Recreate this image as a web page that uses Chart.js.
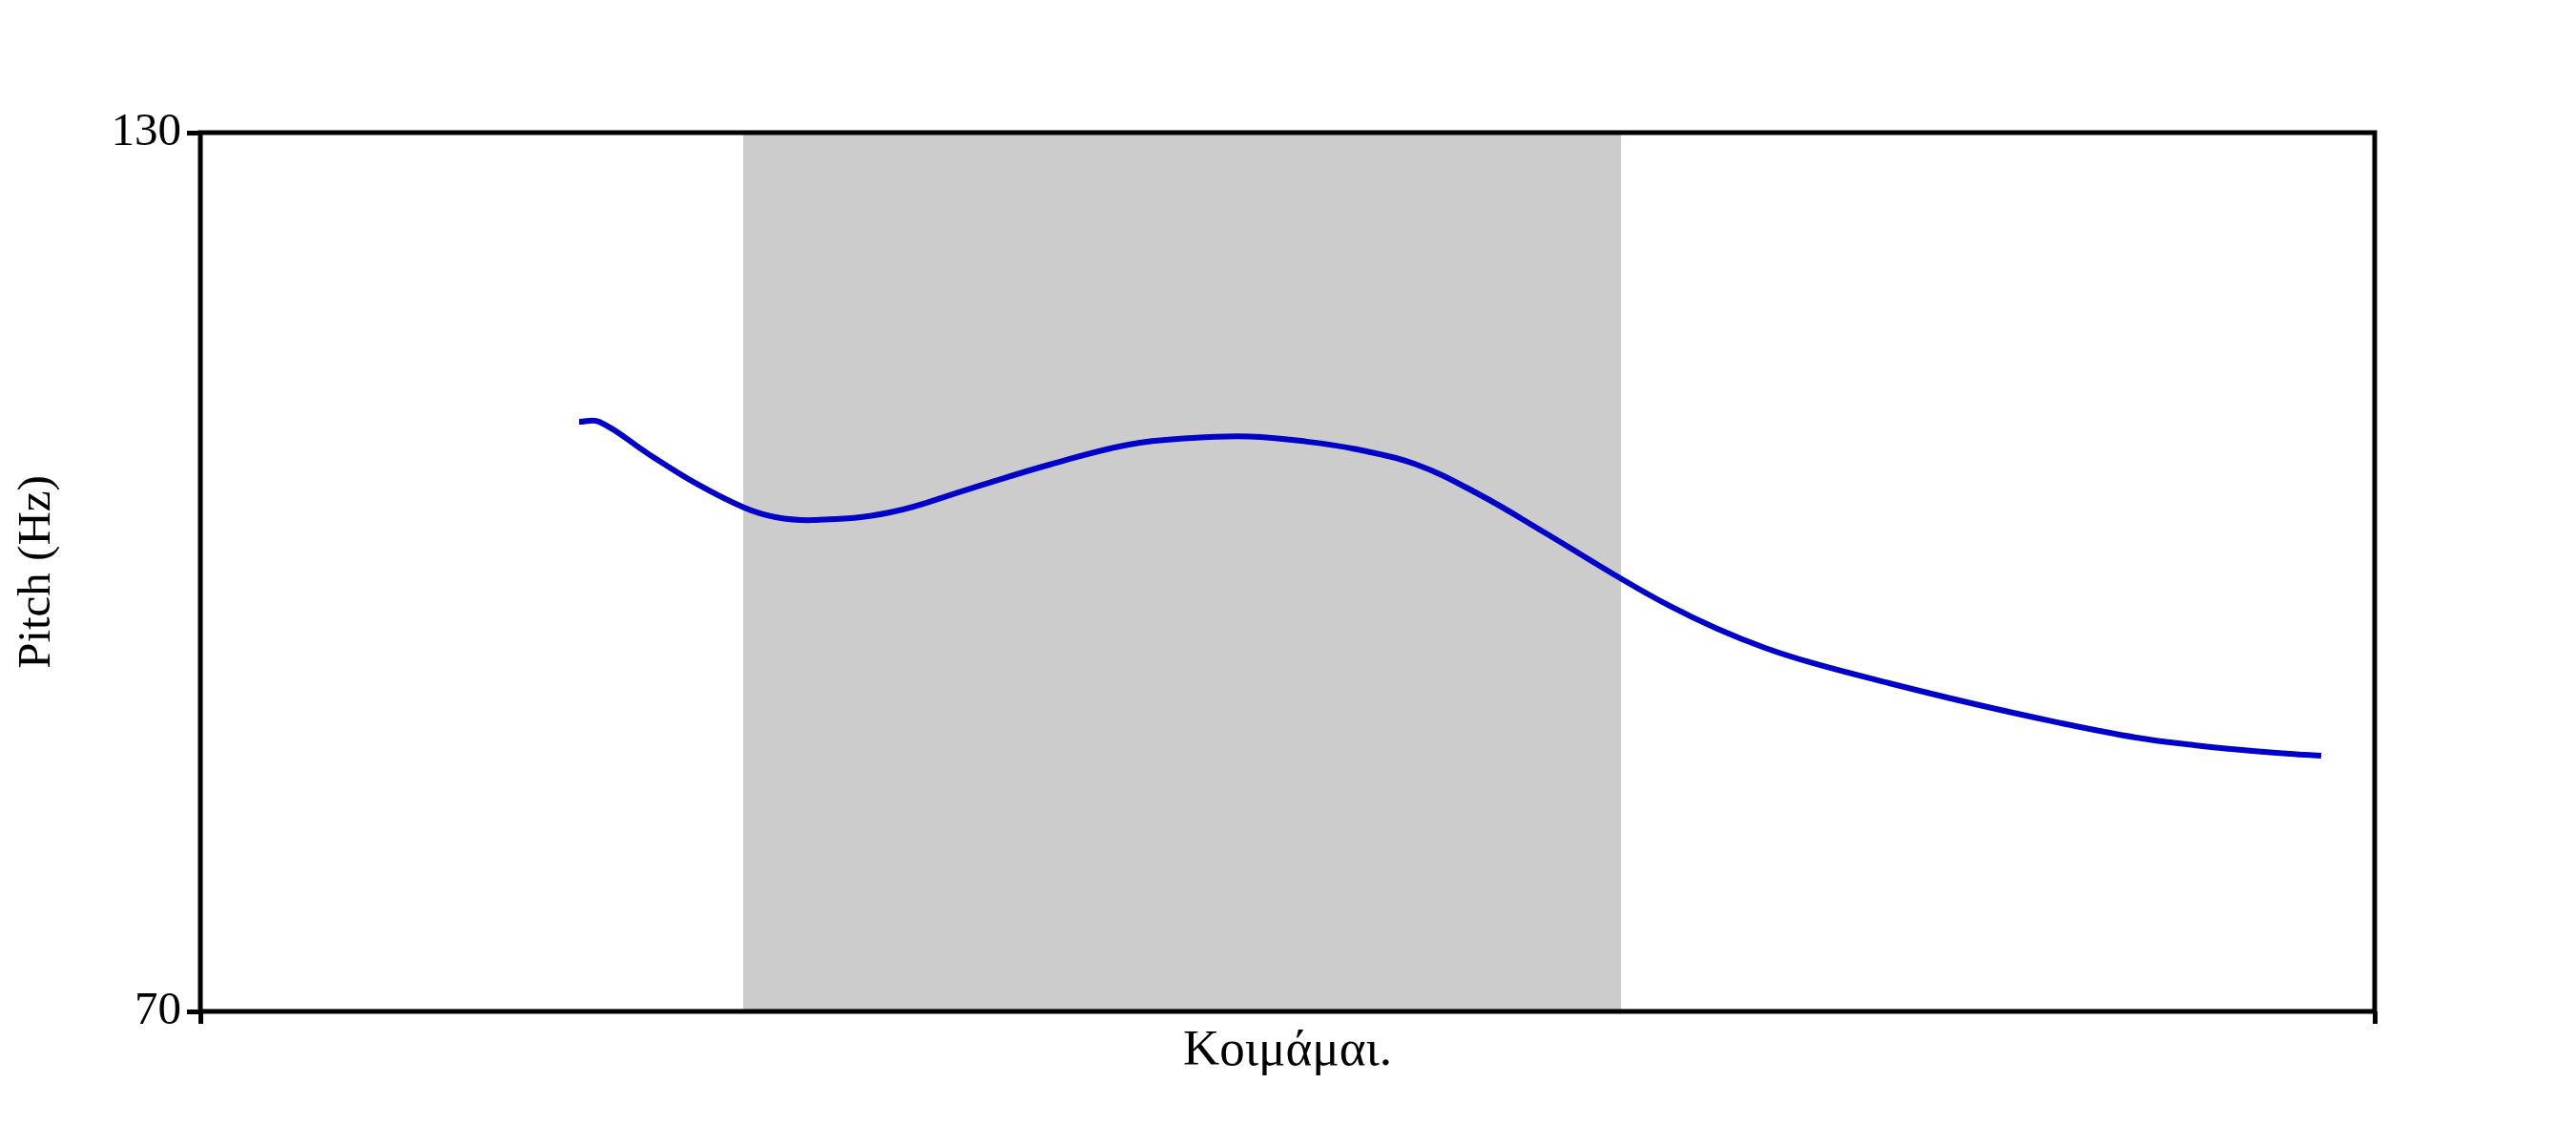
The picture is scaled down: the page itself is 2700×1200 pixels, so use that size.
<!DOCTYPE html>
<html>
<head>
<meta charset="utf-8">
<script src="https://cdn.jsdelivr.net/npm/chart.js@4.4.1/dist/chart.umd.min.js"></script>
<style>
  html, body { margin: 0; padding: 0; background: #fff; }
  #wrap { width: 2700px; height: 1200px; position: relative; }
</style>
</head>
<body>
<div id="wrap"><canvas id="pitchChart"></canvas></div>
<script>
// time axis runs 0..1000 (relative units), pitch in Hz
const times = [174.2, 183.4, 206.2, 228.2, 250.1, 264.6, 282.1,
  317.2, 354.1, 390.5, 426.9, 456.3, 482.7, 509.0, 530.9, 558.6, 588.0,
  617.4, 653.8, 675.7, 697.7, 719.6, 741.6, 776.7, 814.4, 852.1,
  890.3, 917.1, 939.0, 960.9, 975.4];
const pitch = [110.26, 110.26, 108.05, 106.03, 104.40, 103.75, 103.55,
  104.07, 105.70, 107.33, 108.70, 109.15, 109.25, 108.90, 108.40, 107.38, 105.31,
  102.77, 99.51, 97.69, 96.12, 94.82, 93.78, 92.41, 91.04, 89.80,
  88.70, 88.18, 87.85, 87.59, 87.46];
const syllableBand = [249.7, 653.4];
const timeRange = [0, 1000];
const yTicks = [70, 130];
const xLabel = "Κοιμάμαι.";
const yLabel = "Pitch (Hz)";

const serif = "'Liberation Serif', 'DejaVu Serif', serif";

const bandPlugin = {
  id: "band",
  beforeDatasetsDraw(chart) {
    const { ctx, chartArea, scales } = chart;
    const x0 = scales.x.getPixelForValue(syllableBand[0]);
    const x1 = scales.x.getPixelForValue(syllableBand[1]);
    ctx.save();
    ctx.fillStyle = "#cccccc";
    ctx.fillRect(x0, chartArea.top, x1 - x0, chartArea.bottom - chartArea.top);
    ctx.restore();
  },
  afterDraw(chart) {
    const { ctx, chartArea } = chart;
    ctx.save();
    ctx.strokeStyle = "#000";
    ctx.lineWidth = 5;
    ctx.strokeRect(chartArea.left, chartArea.top,
      chartArea.right - chartArea.left, chartArea.bottom - chartArea.top);
    ctx.restore();
  }
};

new Chart(document.getElementById("pitchChart"), {
  type: "line",
  data: {
    datasets: [{
      data: times.map((t, i) => ({ x: t, y: pitch[i] })),
      borderColor: "#0000c8",
      borderWidth: 6,
      pointRadius: 0,
      tension: 0.4,
      fill: false
    }]
  },
  options: {
    responsive: true,
    maintainAspectRatio: false,
    animation: false,
    layout: { padding: { top: 139, right: 211, left: 0, bottom: 0 } },
    plugins: {
      legend: { display: false },
      tooltip: { enabled: false }
    },
    scales: {
      x: {
        type: "linear",
        min: timeRange[0],
        max: timeRange[1],
        afterBuildTicks: (scale) => { scale.ticks = timeRange.map(v => ({ value: v })); },
        afterFit: (scale) => { scale.height = 140; },
        ticks: { callback: () => "", padding: 0 },
        grid: { drawOnChartArea: false, drawTicks: true, tickLength: 13, lineWidth: 5, color: "#000" },
        border: { display: false },
        title: {
          display: true,
          text: xLabel,
          color: "#000",
          font: { family: serif, size: 53 },
          padding: { top: 0, bottom: 66 }
        }
      },
      y: {
        min: yTicks[0],
        max: yTicks[1],
        afterBuildTicks: (scale) => { scale.ticks = yTicks.map(v => ({ value: v })); },
        afterFit: (scale) => { scale.width = 210; },
        ticks: { color: "#000", padding: 6, font: { family: serif, size: 49 } },
        grid: { drawOnChartArea: false, drawTicks: true, tickLength: 14, lineWidth: 5, color: "#000" },
        border: { display: false },
        title: {
          display: true,
          text: yLabel,
          color: "#000",
          font: { family: serif, size: 49 },
          padding: { top: 10, bottom: 0 }
        }
      }
    }
  },
  plugins: [bandPlugin]
});
</script>
</body>
</html>
